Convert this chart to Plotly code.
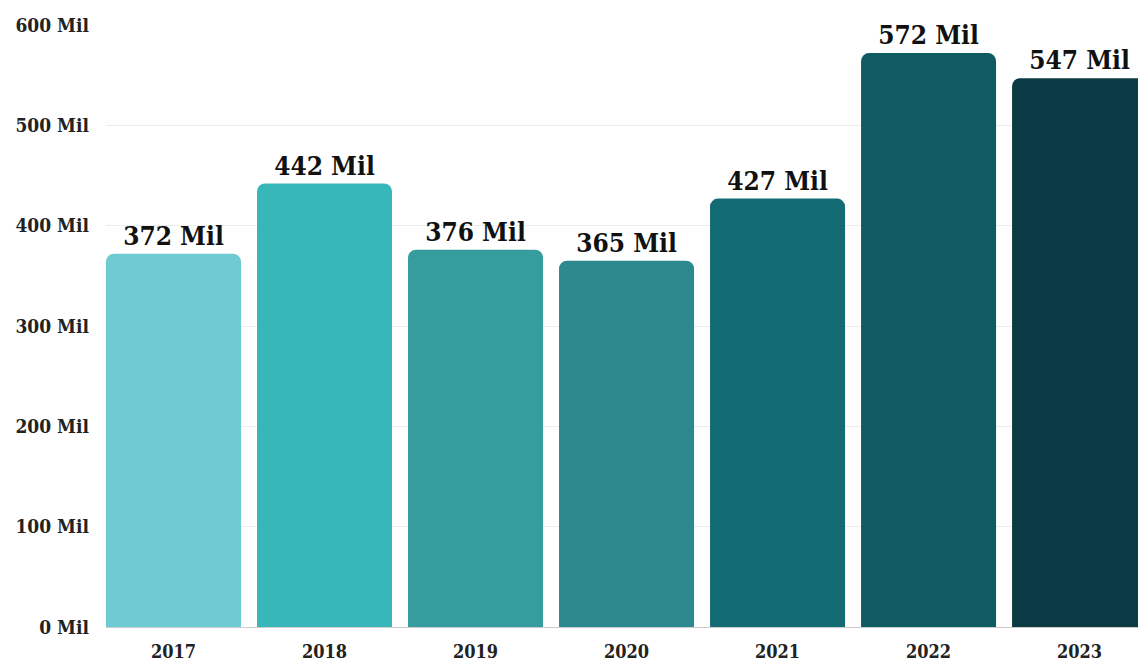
import plotly.graph_objects as go

years = ["2017", "2018", "2019", "2020", "2021", "2022", "2023"]
values = [372, 442, 376, 365, 427, 572, 547]
colors = ["#6ECBD1", "#38B7BA", "#369D9F", "#2C898D", "#136C73", "#0F5A63", "#0C3A44"]
y_ticks = [0, 100, 200, 300, 400, 500, 600]

FONT = "DejaVu Serif Condensed, DejaVu Serif, serif"

fig = go.Figure(
    go.Bar(
        x=years,
        y=values,
        marker=dict(color=colors, cornerradius=8, line=dict(width=0)),
        text=[f"{v} Mil" for v in values],
        textposition="outside",
        textfont=dict(family=FONT, size=26, color="#111111", weight="bold"),
        cliponaxis=False,
    )
)

fig.update_layout(
    width=1138,
    height=661,
    margin=dict(l=106, r=0, t=25, b=34),
    paper_bgcolor="white",
    plot_bgcolor="white",
    bargap=0.106,
    showlegend=False,
    xaxis=dict(
        type="category",
        range=[-0.447, 6.387],
        showgrid=False,
        showline=True,
        linecolor="#cccccc",
        linewidth=1,
        ticks="",
        ticklabelstandoff=8,
        tickfont=dict(family=FONT, size=18, color="#222222", weight="bold"),
    ),
    yaxis=dict(
        range=[0, 600],
        tickvals=y_ticks,
        ticktext=[f"{t} Mil" for t in y_ticks],
        showgrid=True,
        gridcolor="#ececec",
        gridwidth=1,
        zeroline=False,
        ticks="",
        ticklabelstandoff=16,
        tickfont=dict(family=FONT, size=19, color="#222222", weight="bold"),
    ),
)

fig.write_html("out.html")
